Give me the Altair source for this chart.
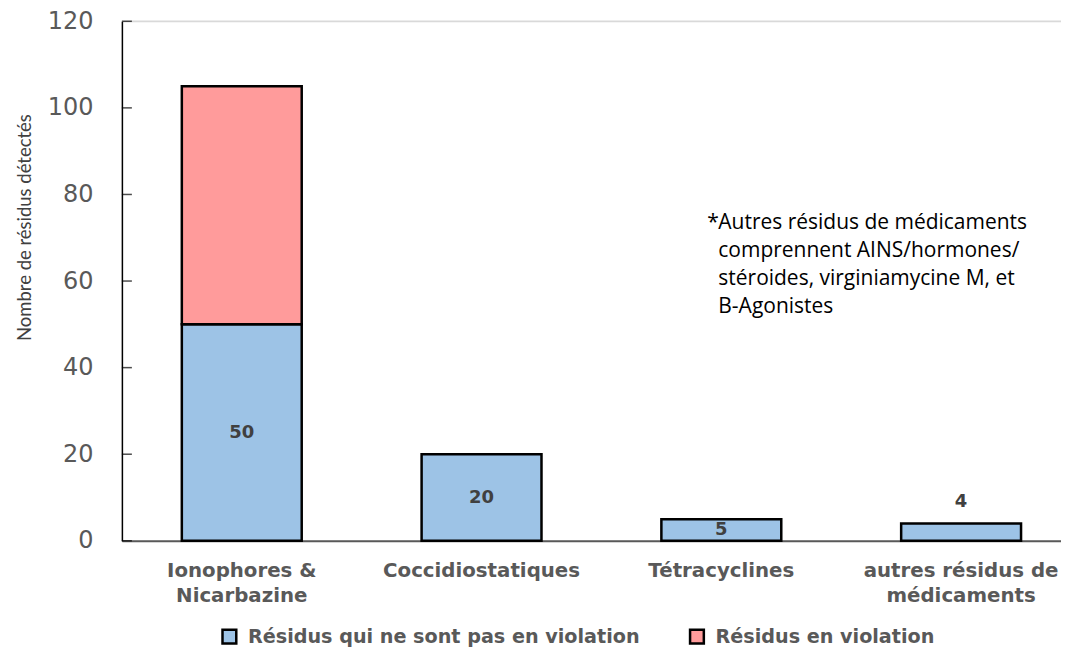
import altair as alt
import pandas as pd

categories = ["Ionophores &|Nicarbazine", "Coccidiostatiques", "Tétracyclines", "autres résidus de|médicaments"]
non_violation = [50, 20, 5, 4]
violation = [55, 0, 0, 0]
label_place = ["center", "center", "center", "above"]
series_names = ["Résidus qui ne sont pas en violation", "Résidus en violation"]
series_colors = ["#9DC3E6", "#FF9B9B"]
y_ticks = [0, 20, 40, 60, 80, 100, 120]
note_lines = ["Autres résidus de médicaments", "comprennent AINS/hormones/", "stéroides, virginiamycine M, et", "B-Agonistes"]

rows = []
for i, c in enumerate(categories):
    if non_violation[i] > 0:
        rows.append({"cat": c, "series": series_names[0], "val": non_violation[i], "order": 0})
    if violation[i] > 0:
        rows.append({"cat": c, "series": series_names[1], "val": violation[i], "order": 1})
bars_df = pd.DataFrame(rows)

lab_df = pd.DataFrame({"cat": categories, "val": non_violation, "place": label_place})
lab_df["mid"] = lab_df["val"] / 2
lab_df["txt"] = lab_df["val"].astype(str)

tick_df = pd.DataFrame({"t": y_ticks})

x_enc = alt.X("cat:N", sort=categories, title=None,
              scale=alt.Scale(paddingInner=0.5, paddingOuter=0.2083, align=0.6),
              axis=alt.Axis(labelExpr="split(datum.label, '|')", labelAngle=0,
                            labelFont="DejaVu Sans", labelFontWeight="bold", labelFontSize=19.8,
                            labelColor="#595959", labelLineHeight=25, labelPadding=20,
                            labelLimit=400, ticks=False, domainColor="#595959", domainWidth=2))
y_scale = alt.Scale(domain=[0, 120], nice=False)

bars = alt.Chart(bars_df).mark_bar(stroke="black", strokeWidth=2.5).encode(
    x=x_enc,
    y=alt.Y("val:Q", stack="zero", scale=y_scale, title="Nombre de résidus détectés",
            axis=alt.Axis(values=y_ticks, grid=False, ticks=False, labelFont="DejaVu Sans",
                          labelFontSize=24, labelColor="#595959", labelPadding=29,
                          domainColor="black", domainWidth=1.5,
                          titleFont="Lato", titleFontSize=18.5,
                          titleFontWeight="normal",
                          titleColor="#404040", titleX=-97, titleY=206, titleAngle=-90,
                          titleAlign="center", titleBaseline="middle")),
    color=alt.Color("series:N", sort=series_names,
                    scale=alt.Scale(domain=series_names, range=series_colors),
                    legend=alt.Legend(title=None, orient="none", direction="horizontal",
                                      legendX=98, legendY=606, symbolType="square",
                                      symbolSize=190, symbolStrokeColor="black",
                                      symbolStrokeWidth=2.5, symbolOpacity=1,
                                      labelFont="DejaVu Sans", labelFontWeight="bold",
                                      labelFontSize=19.2, labelColor="#595959",
                                      labelOffset=9, columnPadding=44, labelLimit=500,
                                      padding=0)),
    order=alt.Order("order:Q"),
)

top_line = alt.Chart(pd.DataFrame({"v": [120]})).mark_rule(color="#D9D9D9", strokeWidth=1.5).encode(
    y=alt.Y("v:Q", scale=y_scale))

ticks = alt.Chart(tick_df).mark_tick(color="black", size=10, thickness=1.5).encode(
    y=alt.Y("t:Q", scale=y_scale), x=alt.value(5))

lab_center = alt.Chart(lab_df).transform_filter(alt.datum.place == "center").mark_text(
    font="DejaVu Sans", fontWeight="bold", fontSize=18, color="#404040", baseline="middle").encode(
    x=alt.X("cat:N", sort=categories), y=alt.Y("mid:Q", scale=y_scale), text="txt:N")

lab_above = alt.Chart(lab_df).transform_filter(alt.datum.place == "above").mark_text(
    font="DejaVu Sans", fontWeight="bold", fontSize=18, color="#404040", baseline="bottom", dy=-12).encode(
    x=alt.X("cat:N", sort=categories), y=alt.Y("val:Q", scale=y_scale), text="txt:N")

star = alt.Chart(pd.DataFrame({"s": ["*"]})).mark_text(
    font="Open Sans", fontSize=21, color="black", align="left", baseline="alphabetic").encode(
    x=alt.value(586), y=alt.value(208), text="s:N")

note = alt.Chart(pd.DataFrame({"s": ["\n".join(note_lines)]})).mark_text(
    font="Open Sans", fontSize=21, color="black", align="left", baseline="alphabetic",
    lineBreak="\n", lineHeight=28).encode(
    x=alt.value(597), y=alt.value(208), text="s:N")

chart = alt.layer(top_line, bars, ticks, lab_center, lab_above, star, note).properties(
    width=940, height=520,
    autosize=alt.AutoSizeParams(type="none"),
    padding={"left": 114, "top": 13, "right": 0, "bottom": 108},
).configure_view(stroke=None).configure(background="white")

chart.save("out.html", embed_options={"renderer": "svg", "actions": False})
